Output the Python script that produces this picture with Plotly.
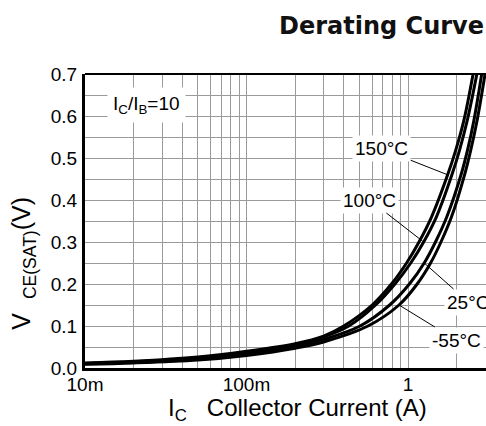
import numpy as np
import plotly.graph_objects as go

# ---- data ----
ic_150 = [0.01, 0.02, 0.05, 0.1, 0.2, 0.3, 0.40, 0.60, 0.79, 0.98, 1.17, 1.40, 1.76, 1.98, 2.22, 2.53]
v_150 = [0.012, 0.016, 0.026, 0.040, 0.058, 0.076, 0.10, 0.15, 0.20, 0.25, 0.30, 0.36, 0.46, 0.52, 0.59, 0.70]

ic_100 = [0.01, 0.02, 0.05, 0.1, 0.2, 0.3, 0.43, 0.63, 0.83, 1.04, 1.25, 1.50, 1.87, 2.09, 2.33, 2.67]
v_100 = [0.011, 0.015, 0.024, 0.037, 0.056, 0.074, 0.10, 0.15, 0.20, 0.25, 0.30, 0.36, 0.46, 0.52, 0.59, 0.70]

ic_25 = [0.01, 0.02, 0.05, 0.1, 0.2, 0.3, 0.505, 0.77, 1.02, 1.26, 1.48, 1.74, 2.13, 2.34, 2.56, 2.86]
v_25 = [0.010, 0.013, 0.021, 0.033, 0.051, 0.068, 0.10, 0.15, 0.20, 0.25, 0.30, 0.36, 0.46, 0.52, 0.59, 0.70]

ic_m55 = [0.01, 0.02, 0.05, 0.1, 0.2, 0.3, 0.565, 0.88, 1.14, 1.38, 1.60, 1.86, 2.24, 2.45, 2.68, 3.00]
v_m55 = [0.009, 0.012, 0.019, 0.030, 0.047, 0.062, 0.10, 0.15, 0.20, 0.25, 0.30, 0.36, 0.46, 0.52, 0.59, 0.70]

curve_names = ["150°C", "100°C", "25°C", "-55°C"]
# index of the point on each curve where its label's leader line ends
label_idx = [12, 10, 9, 7]

x_tickvals = [0.01, 0.02, 0.03, 0.04, 0.05, 0.06, 0.07, 0.08, 0.09,
              0.1, 0.2, 0.3, 0.4, 0.5, 0.6, 0.7, 0.8, 0.9, 1, 2, 3]
x_ticktext = ["10m"] + [""] * 8 + ["100m"] + [""] * 8 + ["1", "", ""]

FONT = "Liberation Sans, Arial, sans-serif"

curves = [(ic_150, v_150), (ic_100, v_100), (ic_25, v_25), (ic_m55, v_m55)]

fig = go.Figure()
for (ic, v), name in zip(curves, curve_names):
    fig.add_trace(go.Scatter(x=ic, y=v, mode="lines", name=name,
                             line=dict(color="black", width=3, shape="spline", smoothing=1.0),
                             showlegend=False))

fig.update_layout(
    width=486, height=426,
    margin=dict(l=85, r=0, t=74, b=58),
    paper_bgcolor="white", plot_bgcolor="white",
    font=dict(family=FONT, color="black"),
    xaxis=dict(type="log", range=[-2, 0.483], tickvals=x_tickvals, ticktext=x_ticktext,
               showgrid=True, gridcolor="#9a9a9a", gridwidth=1,
               showline=True, linecolor="black", linewidth=3,
               ticks="", tickfont=dict(size=19, family=FONT), ticklabelstandoff=-3,
               zeroline=False),
    yaxis=dict(range=[0, 0.7], dtick=0.1, tick0=0, tickformat=".1f",
               showgrid=True, gridcolor="#9a9a9a", gridwidth=1,
               minor=dict(dtick=0.05, showgrid=True, gridcolor="#9a9a9a", gridwidth=1),
               showline=True, linecolor="black", linewidth=3,
               ticks="", tickfont=dict(size=19, family=FONT), ticklabelstandoff=1,
               zeroline=False),
)

# top border
fig.add_shape(type="line", xref="paper", yref="paper", x0=0, x1=1, y0=1, y1=1,
              line=dict(color="black", width=2))

# title
fig.add_annotation(text="<b>Derating Curve</b>", xref="paper", yref="paper",
                   x=1.0, y=1.163, xanchor="right", yanchor="middle", showarrow=False,
                   font=dict(family="DejaVu Sans", size=24, color="#111111"))

# axis titles
fig.add_annotation(text="I<sub>C</sub>\u00a0\u00a0\u00a0Collector Current (A)",
                   xref="paper", yref="paper", x=0.5287, y=-0.142,
                   xanchor="center", yanchor="middle", showarrow=False,
                   font=dict(family=FONT, size=24))
fig.add_annotation(text="V\u00a0\u00a0<sub>CE(SAT)</sub>(V)",
                   xref="paper", yref="paper", x=-0.1546, y=0.355,
                   xanchor="center", yanchor="middle", textangle=-90, showarrow=False,
                   font=dict(family=FONT, size=25))

# ratio note
fig.add_annotation(text="I<sub>C</sub>/I<sub>B</sub>=10", xref="paper", yref="paper",
                   x=(146 - 85) / 401, y=(368 - 105) / 294, xanchor="center", yanchor="middle",
                   showarrow=False, bgcolor="white", borderpad=5,
                   font=dict(family=FONT, size=19))

# curve labels with leader lines
offsets = [(-66, -26), (-54, -42), (44, 39), (57, 35)]
for (ic, v), name, k, (ax, ay) in zip(curves, curve_names, label_idx, offsets):
    fig.add_annotation(text=name, x=np.log10(ic[k]), y=v[k], xref="x", yref="y",
                       ax=ax, ay=ay, showarrow=True, arrowhead=0, arrowwidth=1,
                       arrowcolor="black", bgcolor="white", borderpad=2,
                       font=dict(family=FONT, size=19))

fig.write_html("out.html")
